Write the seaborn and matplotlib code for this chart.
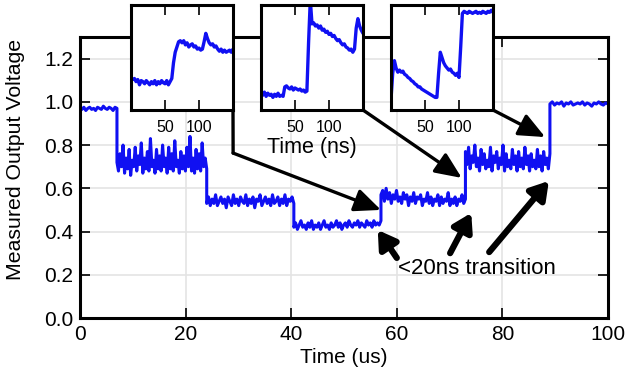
import numpy as np
import pandas as pd
import matplotlib
matplotlib.use("Agg")
import matplotlib.pyplot as plt
import seaborn as sns

# ---------------- data ----------------
seg_bounds = [0, 7, 24, 40.5, 57, 73, 89, 100]  # us
seg1 = [0.97, 0.965, 0.975, 0.96, 0.97, 0.975, 0.965, 0.97, 0.96, 0.975, 0.97, 0.965, 0.98, 0.97,
        0.965, 0.975, 0.97, 0.96, 0.975, 0.97]
seg2 = [0.72, 0.68, 0.76, 0.70, 0.80, 0.67, 0.74, 0.69, 0.78, 0.66, 0.73, 0.70, 0.79, 0.68, 0.75, 0.71,
        0.81, 0.67, 0.74, 0.69, 0.77, 0.68, 0.83, 0.70, 0.73, 0.67, 0.78, 0.69, 0.75, 0.68, 0.80, 0.70,
        0.74, 0.67, 0.79, 0.69, 0.76, 0.68, 0.82, 0.70, 0.73, 0.67, 0.77, 0.69, 0.75, 0.68, 0.79, 0.70,
        0.84, 0.68, 0.74, 0.67, 0.78, 0.69, 0.76, 0.68, 0.81, 0.70, 0.74, 0.69]
seg3 = [0.53, 0.56, 0.52, 0.55, 0.53, 0.57, 0.52, 0.54, 0.56, 0.53, 0.55, 0.51, 0.56, 0.54, 0.52, 0.57,
        0.53, 0.55, 0.52, 0.56, 0.54, 0.53, 0.57, 0.52, 0.55, 0.53, 0.56, 0.51, 0.55, 0.54, 0.57, 0.52,
        0.54, 0.56, 0.53, 0.55, 0.52, 0.57, 0.53, 0.54, 0.56, 0.52, 0.55, 0.53, 0.57, 0.52, 0.55, 0.54,
        0.56, 0.53]
seg4 = [0.42, 0.44, 0.41, 0.43, 0.45, 0.42, 0.43, 0.41, 0.44, 0.42, 0.45, 0.41, 0.43, 0.42, 0.44, 0.41,
        0.43, 0.45, 0.42, 0.43, 0.41, 0.44, 0.42, 0.43, 0.45, 0.42, 0.44, 0.41, 0.43, 0.44, 0.42, 0.45,
        0.43, 0.42, 0.44, 0.43, 0.45, 0.42, 0.44, 0.43, 0.42, 0.45, 0.43, 0.44, 0.42, 0.45, 0.43, 0.44,
        0.43, 0.45]
seg5 = [0.57, 0.59, 0.54, 0.60, 0.55, 0.58, 0.53, 0.57, 0.55, 0.59, 0.54, 0.56, 0.53, 0.58, 0.55, 0.57,
        0.52, 0.56, 0.54, 0.58, 0.53, 0.56, 0.55, 0.57, 0.52, 0.55, 0.54, 0.58, 0.53, 0.56, 0.52, 0.55,
        0.54, 0.57, 0.52, 0.56, 0.53, 0.55, 0.54, 0.58, 0.52, 0.55, 0.53, 0.56, 0.52, 0.55, 0.54, 0.57,
        0.53, 0.55]
seg6 = [0.77, 0.71, 0.79, 0.69, 0.75, 0.72, 0.80, 0.70, 0.74, 0.68, 0.78, 0.71, 0.76, 0.69, 0.73, 0.70,
        0.79, 0.68, 0.75, 0.72, 0.77, 0.69, 0.74, 0.71, 0.80, 0.68, 0.76, 0.70, 0.73, 0.69, 0.78, 0.71,
        0.75, 0.68, 0.77, 0.70, 0.74, 0.69, 0.79, 0.71, 0.75, 0.68, 0.76, 0.70, 0.73, 0.69, 0.78, 0.70,
        0.75, 0.68, 0.77, 0.71, 0.74, 0.69, 0.76]
seg7 = [0.99, 1.0, 0.985, 0.995, 0.99, 1.0, 0.98, 0.995, 0.99, 1.0, 0.985, 0.99, 0.995, 0.99, 1.0, 0.985,
        0.995, 0.99, 0.98, 0.995, 0.99, 1.0, 0.99, 0.985, 0.995, 0.99]
segments = [seg1, seg2, seg3, seg4, seg5, seg6, seg7]

inset_step_ns = 2.5
inset1 = [0.30, 0.29, 0.30, 0.27, 0.29, 0.24, 0.28, 0.27, 0.25, 0.28, 0.26, 0.24, 0.27, 0.25, 0.28, 0.24,
          0.27, 0.25, 0.28, 0.26, 0.25, 0.28, 0.24, 0.27, 0.30,
          0.45, 0.55, 0.60, 0.65,
          0.66, 0.64, 0.66, 0.62, 0.64, 0.60, 0.62, 0.63, 0.60, 0.61, 0.58, 0.59, 0.57, 0.58,
          0.65, 0.73, 0.68,
          0.64, 0.62, 0.63, 0.60, 0.61, 0.58, 0.56, 0.58, 0.55, 0.57, 0.55, 0.56, 0.57, 0.55, 0.58]
inset2 = [0.16, 0.14, 0.17, 0.13, 0.16, 0.14, 0.15, 0.12, 0.15, 0.13, 0.16, 0.13, 0.14, 0.13,
          0.22, 0.23, 0.21, 0.20, 0.22, 0.19, 0.21, 0.20, 0.19, 0.20, 0.18, 0.19, 0.17,
          0.18, 0.65, 1.05, 0.82,
          0.83, 0.80, 0.81, 0.78, 0.80, 0.76, 0.77, 0.74, 0.75, 0.72, 0.73, 0.70, 0.71, 0.68, 0.66, 0.67,
          0.64, 0.62, 0.63, 0.60, 0.59, 0.57, 0.58, 0.55,
          0.58, 0.78, 0.87, 0.80, 0.76, 0.73]
inset3 = [0.10, 0.35, 0.47, 0.40, 0.36,
          0.38, 0.36, 0.37, 0.34, 0.33, 0.31, 0.30, 0.28, 0.27, 0.25, 0.24, 0.22, 0.22, 0.20, 0.19, 0.18,
          0.17, 0.16, 0.15, 0.14, 0.13, 0.12, 0.12,
          0.35, 0.55, 0.50, 0.45,
          0.42, 0.40, 0.38, 0.39, 0.36, 0.35, 0.33, 0.35, 0.31,
          0.60, 0.92, 0.94,
          0.93, 0.92, 0.94, 0.93, 0.92, 0.93, 0.94, 0.92, 0.93, 0.92, 0.94, 0.93, 0.92, 0.94, 0.93, 0.95, 0.93]
insets = [inset1, inset2, inset3]

x_ticks = [0, 20, 40, 60, 80, 100]
y_ticks = [0.0, 0.2, 0.4, 0.6, 0.8, 1.0, 1.2]
inset_ticks = [50, 100]

# ---------------- style ----------------
sns.set_theme(style="whitegrid")
plt.rcParams['font.family'] = ['Liberation Sans', 'DejaVu Sans']
plt.rcParams.update({
    'axes.edgecolor': 'black',
    'axes.linewidth': 2.0,
    'grid.color': '#e4e4e4',
    'grid.linewidth': 1.2,
    'xtick.color': 'black',
    'ytick.color': 'black',
    'text.color': 'black',
    'axes.labelcolor': 'black',
})
BLUE = '#1010f2'

fig = plt.figure(figsize=(6.3, 3.79), dpi=100)
ax = fig.add_axes([80 / 630, 1 - 318 / 379, 528 / 630, 281 / 379])

# main trace
t_parts, v_parts = [], []
for i, seg in enumerate(segments):
    t_parts.append(np.linspace(seg_bounds[i], seg_bounds[i + 1], len(seg)))
    v_parts.append(np.array(seg))
df = pd.DataFrame({'t': np.concatenate(t_parts), 'v': np.concatenate(v_parts)})
sns.lineplot(data=df, x='t', y='v', ax=ax, color=BLUE, lw=2.2, estimator=None, sort=False)

ax.set_xlim(0, 100)
ax.set_ylim(0, 1.3)
ax.set_xticks(x_ticks)
ax.set_yticks(y_ticks)
ax.set_yticklabels([f"{v:.1f}" for v in y_ticks])
ax.tick_params(axis='both', which='both', direction='in', length=7, width=1.2,
               top=True, right=True, bottom=True, left=True, labelsize=15, pad=5)
ax.set_xlabel("Time (us)", fontsize=15, labelpad=3)
ax.set_ylabel("Measured Output Voltage", fontsize=15.3)
ax.yaxis.set_label_coords(-0.104, 0.565)
ax.grid(True)
for s in ax.spines.values():
    s.set_color('black')
    s.set_linewidth(2.2)

# insets
inset_lefts = [131, 261, 391]
inset_axes = []
for k, (left, vals) in enumerate(zip(inset_lefts, insets)):
    ia = fig.add_axes([left / 630, 1 - 110 / 379, 102 / 630, 105 / 379])
    ia.set_facecolor('white')
    tt = np.arange(len(vals)) * inset_step_ns
    sns.lineplot(x=tt, y=vals, ax=ia, color=BLUE, lw=2.4, estimator=None, sort=False)
    ia.set_xlim(0, 150)
    ia.set_ylim(0, 1)
    ia.set_xticks(inset_ticks)
    ia.set_yticks([])
    ia.grid(False)
    ia.tick_params(axis='x', direction='in', length=7, width=1.2, top=True, bottom=True,
                   labelsize=11.5, pad=7)
    for s in ia.spines.values():
        s.set_color('black')
        s.set_linewidth(2.2)
    if k == 1:
        ia.set_xlabel("Time (ns)", fontsize=15.5, labelpad=2)
    else:
        ia.set_xlabel("")
    ia.set_ylabel("")
    inset_axes.append(ia)

# connectors from insets to transitions
conn = dict(arrowstyle='-|>,head_length=0.8,head_width=0.35', color='black', lw=2.4,
            shrinkA=0, shrinkB=0, mutation_scale=20)
ax.annotate('', xy=(29.0, 0.763), xycoords='data', xytext=(1, 0), textcoords=inset_axes[0].transAxes,
            arrowprops=dict(arrowstyle='-', color='black', lw=2.4, shrinkA=0, shrinkB=0),
            annotation_clip=False)
ax.annotate('', xy=(57.0, 0.50), xycoords='data', xytext=(29.0, 0.763), textcoords='data',
            arrowprops=conn, annotation_clip=False)
ax.annotate('', xy=(72.3, 0.648), xycoords='data', xytext=(1, 0), textcoords=inset_axes[1].transAxes,
            arrowprops=conn, annotation_clip=False)
ax.annotate('', xy=(88.1, 0.837), xycoords='data', xytext=(1, 0), textcoords=inset_axes[2].transAxes,
            arrowprops=conn, annotation_clip=False)

# "<20ns transition" arrows
thick = dict(arrowstyle='-|>,head_length=0.65,head_width=0.4', color='black', lw=4.5,
             shrinkA=0, shrinkB=0, mutation_scale=16)
ax.annotate('', xy=(56.4, 0.407), xytext=(60.0, 0.278), arrowprops=thick)
ax.annotate('', xy=(74.1, 0.486), xytext=(70.1, 0.30), arrowprops=thick)
ax.annotate('', xy=(88.8, 0.634), xytext=(77.5, 0.305), arrowprops=thick)
ax.text(75.2, 0.231, "<20ns transition", fontsize=16, ha='center', va='center')

fig.savefig("out.png", dpi=100)
